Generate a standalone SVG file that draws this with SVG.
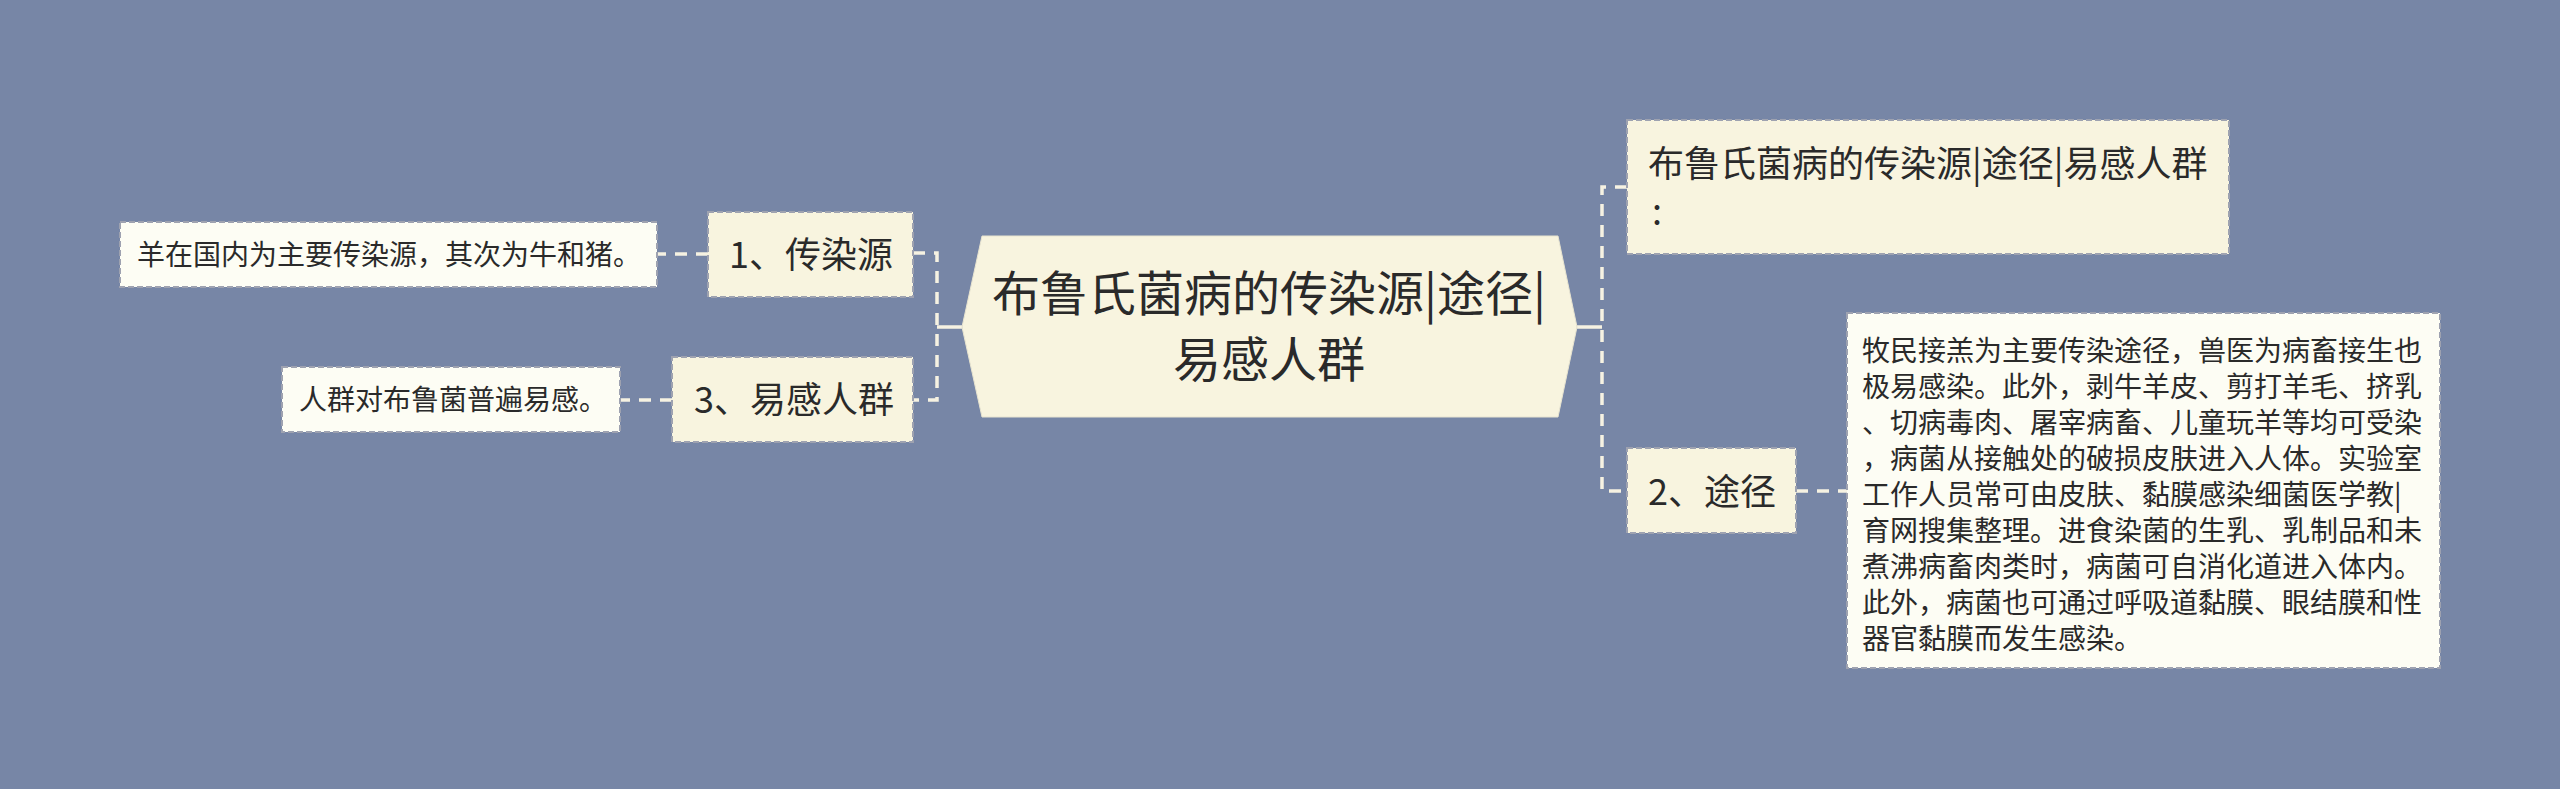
<svg xmlns="http://www.w3.org/2000/svg" width="2560" height="789" viewBox="0 0 2560 789">
<style>
.t{font-family:"Noto Sans CJK SC","Noto Sans CJK JP",sans-serif;fill:#2a2a2a}
.sub{fill:#f8f4df;stroke:#9ea2b0;stroke-width:2;stroke-dasharray:6 3}
.leaf{fill:#fdfdf4;stroke:#9ea2b0;stroke-width:2;stroke-dasharray:6 3}
.c{fill:none;stroke:#f6f2e2;stroke-width:3.5;stroke-dasharray:12 9}
.cs{fill:none;stroke:#f6f2e2;stroke-width:3.5}
</style>
<rect x="0" y="0" width="2560" height="789" fill="#7786a6"/>
<g id="connectors">
<path class="cs" d="M962 327 H937"/>
<path class="c" d="M913 253 H937 V400 H913"/>
<path class="c" d="M708 254 H657"/>
<path class="c" d="M672 400 H620"/>
<path class="cs" d="M1577 327 H1602"/>
<path class="c" d="M1627 187 H1602 V491 H1627"/>
<path class="c" d="M1796 491 H1847"/>
</g>
<g id="root">
<polygon points="982,236 1558,236 1577,327 1558,417 982,417 962,327" fill="#f8f4df" stroke="#e8e4d0" stroke-width="1"/>
<text class="t" x="1269" y="311" font-size="48" text-anchor="middle">布鲁氏菌病的传染源|途径|</text>
<text class="t" x="1269" y="377" font-size="48" text-anchor="middle">易感人群</text>
</g>
<g id="n1">
<rect class="sub" x="708" y="212" width="205" height="85"/>
<text class="t" x="811" y="268" font-size="36" text-anchor="middle">1、传染源</text>
</g>
<g id="n1leaf">
<rect class="leaf" x="120" y="222" width="537" height="65"/>
<text class="t" x="137" y="265" font-size="28">羊在国内为主要传染源，其次为牛和猪。</text>
</g>
<g id="n3">
<rect class="sub" x="672" y="357" width="241" height="85"/>
<text class="t" x="794" y="413" font-size="36" text-anchor="middle">3、易感人群</text>
</g>
<g id="n3leaf">
<rect class="leaf" x="282" y="367" width="338" height="65"/>
<text class="t" x="299" y="410" font-size="28">人群对布鲁菌普遍易感。</text>
</g>
<g id="ntop">
<rect class="sub" x="1627" y="120" width="602" height="134"/>
<text class="t" x="1648" y="177" font-size="36">布鲁氏菌病的传染源|途径|易感人群</text>
<text class="t" x="1652" y="225" font-size="36">:</text>
</g>
<g id="n2">
<rect class="sub" x="1627" y="448" width="169" height="85"/>
<text class="t" x="1712" y="505" font-size="36" text-anchor="middle">2、途径</text>
</g>
<g id="n2leaf">
<rect class="leaf" x="1847" y="313" width="593" height="355"/>
<text class="t" x="1862" y="361" font-size="28">牧民接羔为主要传染途径，兽医为病畜接生也</text>
<text class="t" x="1862" y="397" font-size="28">极易感染。此外，剥牛羊皮、剪打羊毛、挤乳</text>
<text class="t" x="1862" y="433" font-size="28">、切病毒肉、屠宰病畜、儿童玩羊等均可受染</text>
<text class="t" x="1862" y="469" font-size="28">，病菌从接触处的破损皮肤进入人体。实验室</text>
<text class="t" x="1862" y="505" font-size="28">工作人员常可由皮肤、黏膜感染细菌医学教|</text>
<text class="t" x="1862" y="541" font-size="28">育网搜集整理。进食染菌的生乳、乳制品和未</text>
<text class="t" x="1862" y="577" font-size="28">煮沸病畜肉类时，病菌可自消化道进入体内。</text>
<text class="t" x="1862" y="613" font-size="28">此外，病菌也可通过呼吸道黏膜、眼结膜和性</text>
<text class="t" x="1862" y="649" font-size="28">器官黏膜而发生感染。</text>
</g>
</svg>
